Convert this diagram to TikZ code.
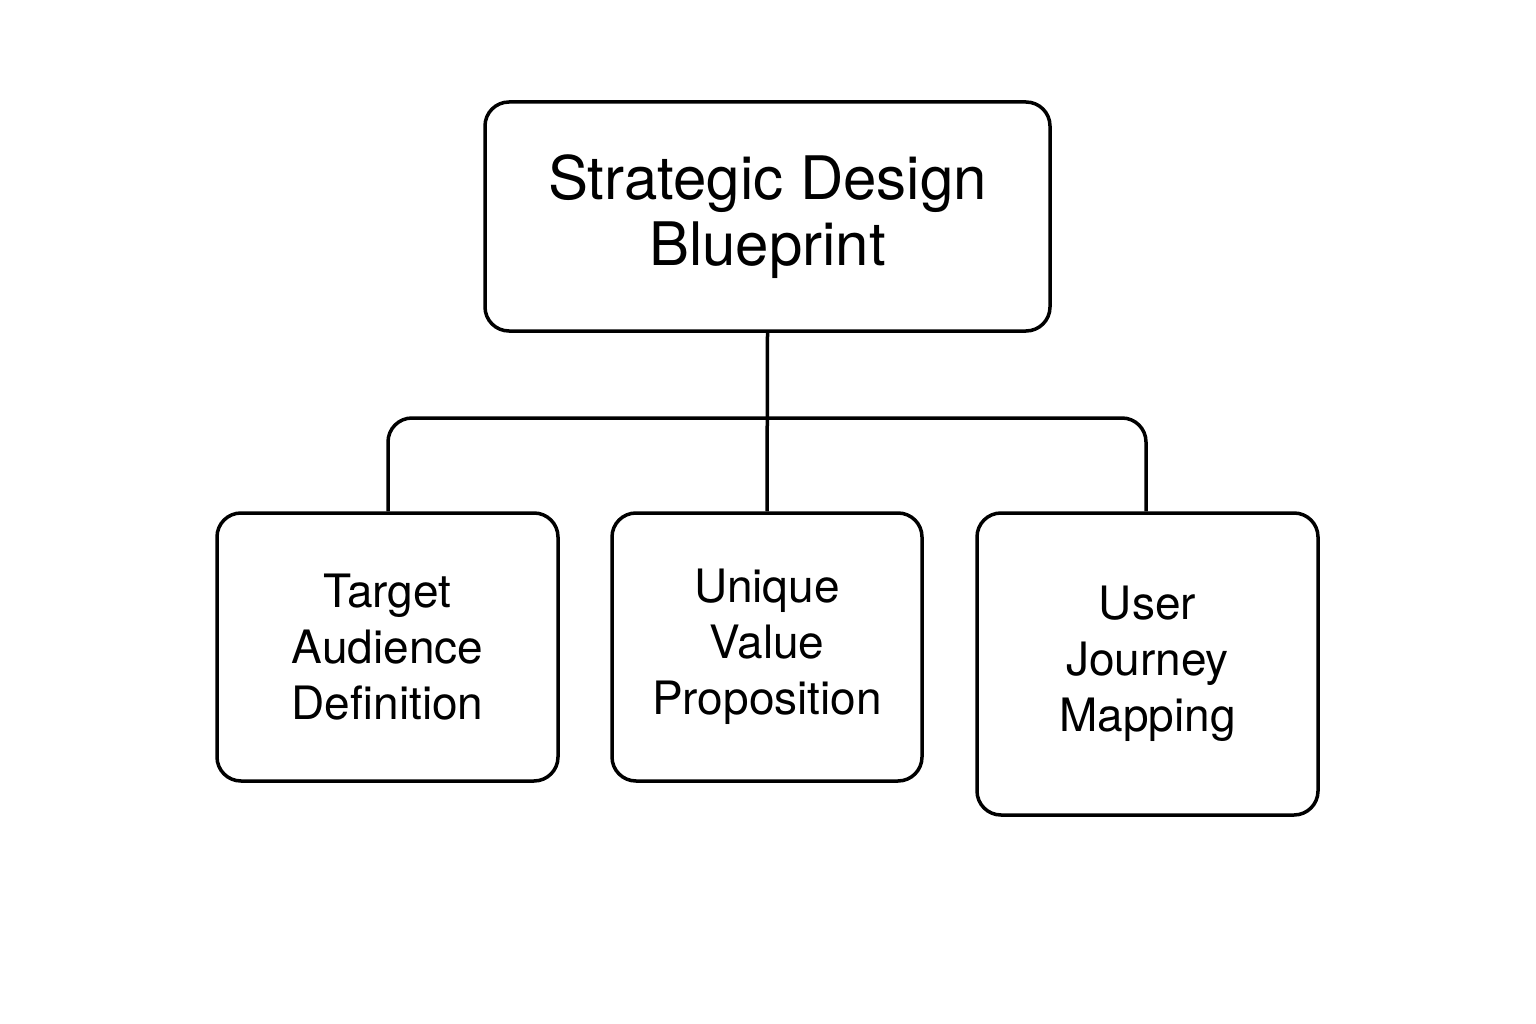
\documentclass[tikz,border=0pt]{standalone}
\usepackage{fontspec}
\setmainfont{TeX Gyre Heros}
\begin{document}
\begin{tikzpicture}[x=1pt,y=-1pt,
  box/.style={draw=black,line width=3.5pt,rounded corners=24pt,align=center,inner sep=0pt},
  big/.style={font=\fontsize{60}{66}\selectfont},
  small/.style={font=\fontsize{46}{56}\selectfont},
  conn/.style={line width=3.5pt,rounded corners=24pt}]
\useasboundingbox[fill=white] (0,0) rectangle (1536,1024);
\node[box,big,minimum width=565pt,minimum height=229pt] (top) at (767.5,216.5) {Strategic Design\\Blueprint};
\node[box,small,minimum width=341pt,minimum height=268pt] (a) at (387.5,647) {Target\\Audience\\Definition};
\node[box,small,minimum width=310pt,minimum height=268pt] (b) at (767,647) {Unique\\Value\\Proposition};
\node[box,small,minimum width=341pt,minimum height=302pt] (c) at (1147.5,664) {User\\Journey\\Mapping};
\coordinate (bus) at (767,418);
\draw[conn] (top.south) -- (b.north);
\draw[conn] (a.north -| 388,0) -- (388,418) -- (1146,418) -- (c.north -| 1146,0);
\end{tikzpicture}
\end{document}
